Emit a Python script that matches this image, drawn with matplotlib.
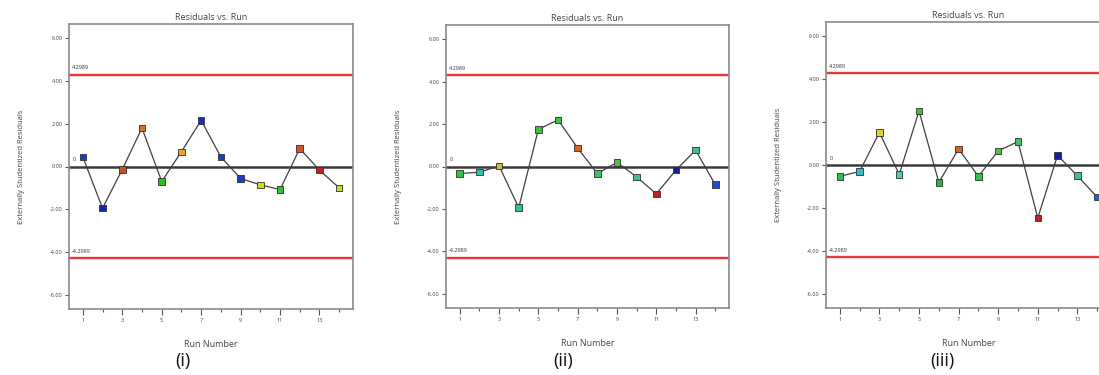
import matplotlib
matplotlib.use("Agg")
import matplotlib.pyplot as plt
from matplotlib.ticker import MultipleLocator, FixedLocator

plt.rcParams['font.family'] = ['Open Sans', 'DejaVu Sans']

runs = list(range(1, 15))

res_i = [0.45, -1.95, -0.14, 1.80, -0.70, 0.69, 2.16, 0.45, -0.56, -0.86, -1.08, 0.84, -0.17, -1.00]
col_i = ['#1a3cc8', '#1228a8', '#c8501e', '#e0701e', '#22c022', '#f0a030', '#1230b8',
         '#1a3cc8', '#1a3cc0', '#d8d820', '#30c030', '#e05020', '#c82020', '#b8e030']

res_ii = [-0.33, -0.27, 0.03, -1.94, 1.75, 2.20, 0.87, -0.33, 0.19, -0.49, -1.29, -0.17, 0.77, -0.85]
col_ii = ['#30c050', '#30c0b0', '#c8c040', '#30c0a0', '#40c040', '#40c040', '#e06020',
          '#40c060', '#50c040', '#40c090', '#c02020', '#1020a0', '#40c0a0', '#2050d0']

res_iii = [-0.53, -0.30, 1.52, -0.44, 2.52, -0.81, 0.75, -0.53, 0.66, 1.09, -2.47, 0.45, -0.50, -1.50]
col_iii = ['#30c050', '#30c0c0', '#e0d030', '#40d0b0', '#40c040', '#30b040', '#e06020',
           '#30c050', '#50c040', '#40c060', '#c02020', '#1020a0', '#40c0a0', '#2060d0']

limit = 4.2989
panel_labels = ['(i)', '(ii)', '(iii)']
yticks = [-6, -4, -2, 0, 2, 4, 6]
ytick_labels = ['-6.00', '-4.00', '-2.00', '0.00', '2.00', '4.00', '6.00']
xtick_major = [1, 3, 5, 7, 9, 11, 13]

W, H = 1099, 375
fig = plt.figure(figsize=(W / 100, H / 100), dpi=100)

# axes boxes in pixels: left, top, right, bottom
boxes = [(69, 24, 353, 309), (446, 25, 729, 308), (826, 22, 1111, 308)]
label_x = [183, 563, 942]
series = [(res_i, col_i), (res_ii, col_ii), (res_iii, col_iii)]

for k, ((l, t, r, b), (res, cols)) in enumerate(zip(boxes, series)):
    ax = fig.add_axes([l / W, 1 - b / H, (r - l) / W, (b - t) / H])
    ax.set_xlim(0.3, 14.7)
    ax.set_ylim(-6.67, 6.67)
    ax.axhline(0, color='#3a3a3a', lw=1.8, zorder=2)
    ax.axhline(limit, color='#e8383c', lw=1.7, zorder=2)
    ax.axhline(-limit, color='#e8383c', lw=1.7, zorder=2)
    ax.plot(runs, res, color='#404040', lw=0.9, zorder=3)
    ax.scatter(runs, res, c=cols, marker='s', s=22, edgecolors='#303030',
               linewidths=0.6, zorder=4)
    ax.text(0.45, limit + 0.2, '4.2989', fontsize=4, color='#333333', va='bottom')
    ax.text(0.45, -limit + 0.2, '-4.2989', fontsize=4, color='#333333', va='bottom')
    ax.text(0.5, 0.2, '0', fontsize=4, color='#333333', va='bottom')

    ax.set_yticks(yticks)
    ax.set_yticklabels(ytick_labels)
    ax.xaxis.set_major_locator(FixedLocator(xtick_major))
    ax.xaxis.set_minor_locator(MultipleLocator(1))
    ax.tick_params(axis='y', length=3, width=0.8, color='#555555', labelsize=4,
                   labelcolor='#444444', pad=1.5)
    ax.tick_params(axis='x', which='major', length=4, width=0.8, color='#555555',
                   labelsize=4, labelcolor='#444444', pad=2.5)
    ax.tick_params(axis='x', which='minor', length=2.5, width=0.8, color='#555555')
    for s in ax.spines.values():
        s.set_color('#8a8a8a')
        s.set_linewidth(1.2)
    ax.set_title('Residuals vs. Run', fontsize=6.5, color='#444444', pad=3)
    ax.set_xlabel('Run Number', fontsize=6.5, color='#444444', labelpad=12)
    ax.set_ylabel('Externally Studentized Residuals', fontsize=5.5, color='#444444',
                  labelpad=18)
    fig.text(label_x[k] / W, 1 - 361 / H, panel_labels[k], fontsize=13,
             ha='center', va='center', color='#111111')

fig.savefig('out.png', dpi=100, facecolor='white')
